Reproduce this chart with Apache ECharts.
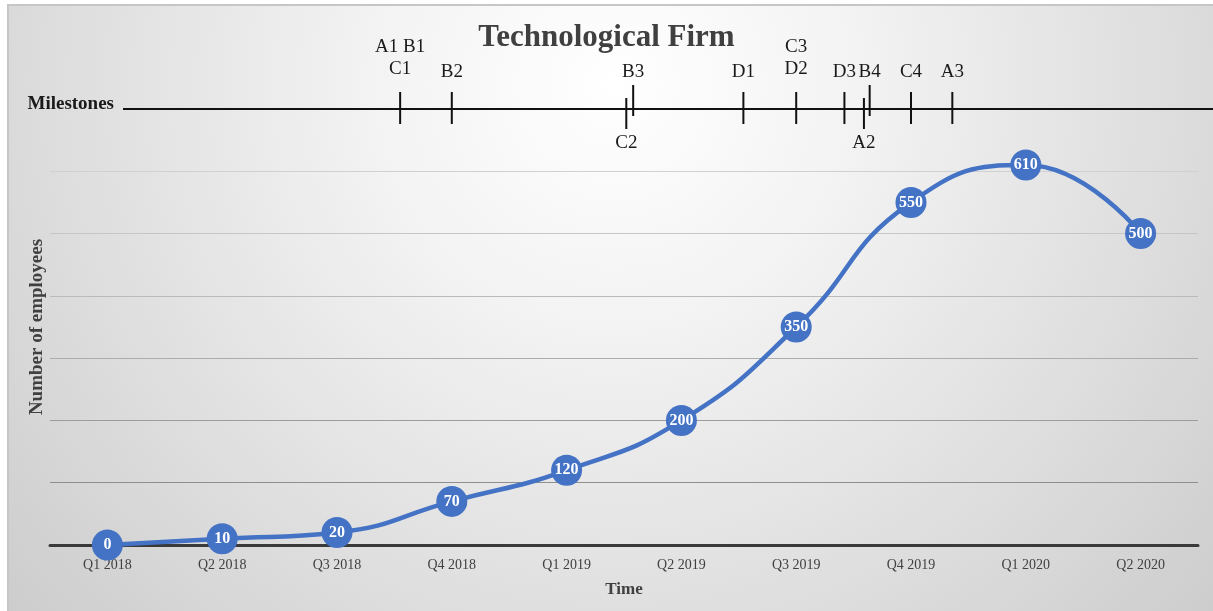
<!DOCTYPE html>
<html>
<head>
<meta charset="utf-8">
<title>Technological Firm</title>
<script src="https://cdn.jsdelivr.net/npm/echarts@6/dist/echarts.min.js"></script>
<style>
  html, body { margin: 0; padding: 0; background: #ffffff; }
  #chart { width: 1213px; height: 611px; }
</style>
</head>
<body>
<div id="chart"></div>
<script>
// Headcount per quarter
const quarters = ['Q1 2018', 'Q2 2018', 'Q3 2018', 'Q4 2018', 'Q1 2019',
                  'Q2 2019', 'Q3 2019', 'Q4 2019', 'Q1 2020', 'Q2 2020'];
const employees = [0, 10, 20, 70, 120, 200, 350, 550, 610, 500];

// Milestones, placed on the same quarter timeline (0 = Q1 2018)
const milestoneNames = ['A1 B1\nC1', 'B2', 'C2', 'B3', 'D1', 'C3\nD2', 'D3', 'A2', 'B4', 'C4', 'A3'];
const milestoneTimes = [2.55, 3.0, 4.52, 4.58, 5.54, 6.0, 6.42, 6.59, 6.64, 7.0, 7.36];

// Value axis range; the milestone timeline runs along its top
const yMin = 0;
const yMax = 700;
const yStep = 100;

const SERIF = '"Liberation Serif", "DejaVu Serif", serif';
const BLUE = '#4472C4';

const chart = echarts.init(document.getElementById('chart'));

// Two milestones closer than this share a spot: the earlier one hangs below the line
const CLOSE = 0.1;

function renderMilestone(params, api) {
  const i = params.dataIndex;
  const p = api.coord([api.value(0), api.value(1)]);
  const below = i + 1 < milestoneTimes.length && milestoneTimes[i + 1] - milestoneTimes[i] < CLOSE;
  const raised = i > 0 && milestoneTimes[i] - milestoneTimes[i - 1] < CLOSE;
  let y1 = p[1] - 17, y2 = p[1] + 15;
  if (below) { y1 = p[1] - 11; y2 = p[1] + 20; }
  else if (raised) { y1 = p[1] - 24; y2 = p[1] + 7; }
  const name = milestoneNames[i];
  const twoLines = name.indexOf('\n') >= 0;
  const textStyle = {
    text: name,
    x: p[0],
    fill: '#1a1a1a',
    font: '19px ' + SERIF,
    align: 'center',
    lineHeight: 22
  };
  if (below) {
    textStyle.y = p[1] + 34;
    textStyle.verticalAlign = 'middle';
  } else {
    textStyle.y = p[1] - (twoLines ? 29 : 26);
    textStyle.verticalAlign = 'bottom';
  }
  return {
    type: 'group',
    children: [
      {
        type: 'line',
        shape: { x1: p[0], y1: y1, x2: p[0], y2: y2 },
        style: { stroke: '#111111', lineWidth: 2 }
      },
      { type: 'text', style: textStyle }
    ]
  };
}

const option = {
  backgroundColor: '#ffffff',
  animation: false,
  title: {
    text: 'Technological Firm',
    left: 'center',
    top: 17,
    textStyle: { fontFamily: SERIF, fontSize: 31, fontWeight: 'bold', color: '#404040' }
  },
  graphic: [
    {
      id: 'frame',
      type: 'rect',
      z: -10,
      silent: true,
      shape: { x: 8, y: 5, width: 1212, height: 612 },
      style: {
        stroke: '#c6c6c6',
        lineWidth: 2,
        fill: new echarts.graphic.RadialGradient(0.5, 0.13, 1.3, [
          { offset: 0, color: '#ffffff' },
          { offset: 0.3, color: '#f3f3f3' },
          { offset: 1, color: '#cdcdcd' }
        ])
      }
    },
    {
      id: 'milestonesLabel',
      type: 'text',
      z: 5,
      style: {
        text: 'Milestones',
        x: 114,
        y: 104,
        align: 'right',
        verticalAlign: 'middle',
        font: 'bold 19px ' + SERIF,
        fill: '#1a1a1a'
      }
    }
  ],
  grid: { left: 50, right: 15, top: 109, bottom: 66 },
  xAxis: [
    {
      type: 'category',
      data: quarters,
      boundaryGap: true,
      name: 'Time',
      nameLocation: 'middle',
      nameGap: 36,
      nameTextStyle: { fontFamily: SERIF, fontSize: 17, fontWeight: 'bold', color: '#404040' },
      axisLine: { lineStyle: { color: '#3a3a3a', width: 3 } },
      axisTick: { show: false },
      axisLabel: { fontFamily: SERIF, fontSize: 14, color: '#404040', margin: 13 },
      splitLine: { show: false }
    },
    {
      // Hidden continuous quarter scale used to place milestones between quarters
      type: 'value',
      show: false,
      min: -0.5,
      max: quarters.length - 0.5,
      splitLine: { show: false }
    }
  ],
  yAxis: {
    type: 'value',
    min: yMin,
    max: yMax,
    interval: yStep,
    name: 'Number of employees',
    nameLocation: 'middle',
    nameGap: 3,
    nameTextStyle: { fontFamily: SERIF, fontSize: 19, fontWeight: 'bold', color: '#404040' },
    axisLine: { show: false },
    axisTick: { show: false },
    axisLabel: { show: false },
    splitLine: {
      show: true,
      lineStyle: {
        width: 1.2,
        color: ['transparent', '#8e8e8e', '#9c9c9c', '#acacac', '#bababa', '#c6c6c6', '#d0d0d0', 'transparent']
      }
    }
  },
  series: [
    {
      name: 'Employees',
      type: 'line',
      data: employees,
      smooth: 0.5,
      z: 3,
      lineStyle: { color: BLUE, width: 4.5 },
      itemStyle: { color: BLUE },
      symbol: 'circle',
      symbolSize: 31,
      label: {
        show: true,
        position: 'inside',
        fontFamily: SERIF,
        fontSize: 16,
        fontWeight: 'bold',
        color: '#ffffff'
      }
    },
    {
      name: 'Milestones',
      type: 'custom',
      xAxisIndex: 1,
      yAxisIndex: 0,
      clip: false,
      z: 4,
      silent: true,
      data: milestoneTimes.map(t => [t, yMax]),
      renderItem: renderMilestone
    }
  ]
};

chart.setOption(option);

// Timeline baseline at the milestone level, running from the label to the right edge
const lineY = chart.convertToPixel({ yAxisIndex: 0 }, yMax);
chart.setOption({
  graphic: [
    {
      id: 'milestoneLine',
      type: 'line',
      z: 4,
      silent: true,
      shape: { x1: 123, y1: lineY, x2: 1213, y2: lineY },
      style: { stroke: '#111111', lineWidth: 2 }
    }
  ]
});
</script>
</body>
</html>
